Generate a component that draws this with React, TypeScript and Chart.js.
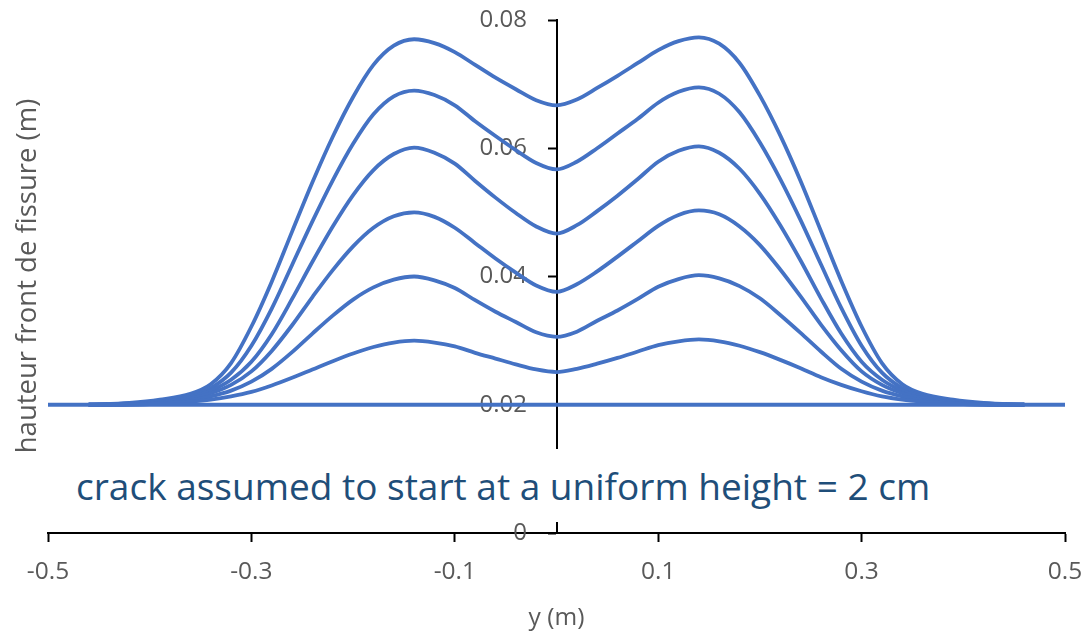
import React, { useEffect, useRef } from "react";
import { Chart, registerables } from "chart.js";

Chart.register(...registerables);

// positions along the crack front, y (m)
const yPositions = [
  -0.46, -0.42, -0.39, -0.36, -0.34, -0.32, -0.3, -0.28, -0.26, -0.24, -0.22,
  -0.2, -0.18, -0.16, -0.14, -0.12, -0.1, -0.08, -0.06, -0.04, -0.02, 0,
  0.02, 0.04, 0.06, 0.08, 0.1, 0.12, 0.14, 0.16, 0.18, 0.2, 0.22, 0.24,
  0.26, 0.28, 0.3, 0.32, 0.34, 0.36, 0.39, 0.42, 0.46,
];

// initial front (uniform 2 cm)
const initialPositions = [-0.5, 0.5];
const initialFront = [0.02, 0.02];

// successive crack front heights (m)
const front1 = [
  0.02, 0.02, 0.0202, 0.0205, 0.0208, 0.0213, 0.022, 0.023, 0.0242, 0.0255, 0.0268,
  0.028, 0.029, 0.0297, 0.03, 0.0297, 0.0291, 0.0281, 0.0272, 0.0263, 0.0255, 0.0251,
  0.0256, 0.0264, 0.0273, 0.0283, 0.0293, 0.0299, 0.0302, 0.0299, 0.0292, 0.0282, 0.027, 0.0257,
  0.0243, 0.0231, 0.0221, 0.0213, 0.0208, 0.0205, 0.0202, 0.02, 0.02,
];
const front2 = [
  0.02, 0.0201, 0.0203, 0.0207, 0.0213, 0.0222, 0.0236, 0.0256, 0.0282, 0.0311, 0.0339,
  0.0364, 0.0383, 0.0395, 0.04, 0.0394, 0.0382, 0.0363, 0.0345, 0.0329, 0.0313, 0.0306,
  0.0314, 0.0331, 0.0347, 0.0365, 0.0384, 0.0396, 0.0402, 0.0397, 0.0385, 0.0366, 0.034, 0.0312,
  0.0283, 0.0256, 0.0236, 0.0222, 0.0213, 0.0207, 0.0203, 0.0201, 0.02,
];
const front3 = [
  0.02, 0.0201, 0.0204, 0.021, 0.0218, 0.0231, 0.0252, 0.0284, 0.0324, 0.0368, 0.041,
  0.0447, 0.0476, 0.0494, 0.05, 0.0493, 0.0476, 0.0452, 0.0428, 0.0406, 0.0386, 0.0376,
  0.0388, 0.0408, 0.0431, 0.0455, 0.0479, 0.0496, 0.0503, 0.0497, 0.0478, 0.0449, 0.0411, 0.0369,
  0.0325, 0.0285, 0.0252, 0.0231, 0.0218, 0.021, 0.0204, 0.0201, 0.02,
];
const front4 = [
  0.02, 0.0201, 0.0205, 0.0212, 0.0222, 0.0239, 0.0267, 0.031, 0.0365, 0.0423, 0.0478,
  0.0527, 0.0566, 0.0591, 0.0601, 0.0593, 0.0576, 0.0549, 0.0523, 0.0499, 0.0478, 0.0467,
  0.048, 0.0502, 0.0526, 0.0552, 0.0579, 0.0596, 0.0603, 0.0593, 0.0568, 0.0529, 0.048, 0.0425,
  0.0366, 0.0311, 0.0267, 0.0239, 0.0222, 0.0212, 0.0205, 0.0201, 0.02,
];
const front5 = [
  0.02, 0.0202, 0.0206, 0.0214, 0.0226, 0.025, 0.0292, 0.035, 0.0418, 0.0486, 0.055,
  0.0607, 0.0653, 0.0681, 0.069, 0.0683, 0.0667, 0.0642, 0.0619, 0.0597, 0.0577, 0.0567,
  0.0579, 0.06, 0.0623, 0.0646, 0.0671, 0.0688, 0.0695, 0.0685, 0.0656, 0.0609, 0.0552, 0.0488,
  0.0419, 0.0351, 0.0292, 0.025, 0.0226, 0.0214, 0.0206, 0.0202, 0.02,
];
const front6 = [
  0.02, 0.0203, 0.0208, 0.0217, 0.0232, 0.0265, 0.0322, 0.0392, 0.047, 0.0547, 0.0618,
  0.068, 0.073, 0.076, 0.077, 0.0764, 0.075, 0.073, 0.071, 0.0692, 0.0675, 0.0667,
  0.0676, 0.0694, 0.0713, 0.0733, 0.0753, 0.0767, 0.0773, 0.0763, 0.0733, 0.0682, 0.062, 0.0549,
  0.0471, 0.0393, 0.0322, 0.0265, 0.0232, 0.0217, 0.0208, 0.0203, 0.02,
];
const fronts = [front1, front2, front3, front4, front5, front6];

const xTickValues = [-0.5, -0.3, -0.1, 0.1, 0.3, 0.5];
const xTickLabels = ["-0.5", "-0.3", "-0.1", "0.1", "0.3", "0.5"];
const yTickValues = [0, 0.02, 0.04, 0.06, 0.08];
const yTickLabels = ["0", "0.02", "0.04", "0.06", "0.08"];

const xTitle = "y (m)";
const yTitle = "hauteur front de fissure (m)";
const note = "crack assumed to start at a uniform height = 2 cm";

const LINE = "#4472C4";
const GREY = "#595959";
const FONT = '"Open Sans", sans-serif';

const yTitlePlugin = {
  id: "yTitlePlugin",
  afterDraw(chart: any) {
    const ctx = chart.ctx;
    ctx.save();
    ctx.translate(36, 276);
    ctx.rotate(-Math.PI / 2);
    ctx.font = `27.5px ${FONT}`;
    ctx.fillStyle = GREY;
    ctx.textAlign = "center";
    ctx.textBaseline = "alphabetic";
    ctx.fillText(yTitle, 0, 0);
    ctx.restore();
  },
};

const yLabelOf = (v: any) =>
  yTickLabels[yTickValues.findIndex((t) => Math.abs(t - v) < 1e-9)] ?? "";

const noVerticalPadding = (s: any) => {
  s.paddingTop = 0;
  s.paddingBottom = 0;
  s.paddingLeft = 0;
  s.paddingRight = 0;
};

export default function App() {
  const ref = useRef<HTMLCanvasElement>(null);
  useEffect(() => {
    const datasets: any[] = [
      {
        label: "initial",
        data: initialPositions.map((x, i) => ({ x, y: initialFront[i] })),
        borderColor: LINE,
        borderWidth: 3.8,
        pointRadius: 0,
      },
      ...fronts.map((f, k) => ({
        label: `front ${k + 1}`,
        data: yPositions.map((x, i) => ({ x, y: f[i] })),
        borderColor: LINE,
        borderWidth: 3.8,
        pointRadius: 0,
        cubicInterpolationMode: "monotone",
      })),
    ];
    const chart = new Chart(ref.current!, {
      type: "line",
      data: { datasets },
      plugins: [yTitlePlugin],
      options: {
        animation: false,
        responsive: true,
        maintainAspectRatio: false,
        layout: { padding: { left: 48, right: 18, top: 20, bottom: 2 } },
        plugins: { legend: { display: false }, tooltip: { enabled: false } },
        scales: {
          x: {
            type: "linear",
            min: -0.5,
            max: 0.5,
            afterBuildTicks: (scale: any) => {
              scale.ticks = xTickValues.map((v) => ({ value: v }));
            },
            afterFit: (s: any) => {
              s.paddingLeft = 0;
              s.paddingRight = 0;
              s.height = 101;
            },
            ticks: {
              color: GREY,
              font: { family: FONT, size: 24.5 },
              padding: 15,
              maxRotation: 0,
              autoSkip: false,
              callback: (v: any) =>
                xTickLabels[xTickValues.findIndex((t) => Math.abs(t - v) < 1e-9)] ?? "",
            },
            grid: { drawOnChartArea: false, drawTicks: true, tickLength: 9, color: "#000", tickWidth: 2 },
            border: { color: "#000", width: 2 },
            title: {
              display: true,
              text: xTitle,
              color: GREY,
              font: { family: FONT, size: 24.5 },
              padding: { top: 0, bottom: 1 },
            },
          },
          y: {
            type: "linear",
            position: { x: 0 } as any,
            min: 0,
            max: 0.08,
            afterBuildTicks: (scale: any) => {
              scale.ticks = yTickValues.map((v) => ({ value: v }));
            },
            afterFit: noVerticalPadding,
            ticks: { display: false },
            grid: { drawOnChartArea: false, drawTicks: true, tickLength: 8, color: "#000", tickWidth: 2 },
            border: { color: "#000", width: 2 },
          },
          yLabels: {
            type: "linear",
            axis: "y",
            position: { x: -0.029 } as any,
            min: 0,
            max: 0.08,
            afterBuildTicks: (scale: any) => {
              scale.ticks = yTickValues.map((v) => ({ value: v }));
            },
            afterFit: noVerticalPadding,
            ticks: {
              color: GREY,
              font: { family: FONT, size: 24 },
              padding: 0,
              callback: yLabelOf,
            },
            grid: { display: false, drawTicks: false },
            border: { display: false },
          },
        },
      },
    });
    return () => chart.destroy();
  }, []);
  return (
    <div style={{ position: "fixed", left: 0, top: 0, width: 1083, height: 636, background: "#fff" }}>
      <canvas ref={ref} />
      <div
        style={{
          position: "absolute",
          left: 60,
          top: 449,
          width: 890,
          height: 73,
          background: "#fff",
          boxSizing: "border-box",
          paddingLeft: 16,
          paddingTop: 18,
          fontFamily: FONT,
          fontSize: 37,
          lineHeight: 1,
          color: "#1F4E79",
          whiteSpace: "nowrap",
        }}
      >
        {note}
      </div>
    </div>
  );
}
